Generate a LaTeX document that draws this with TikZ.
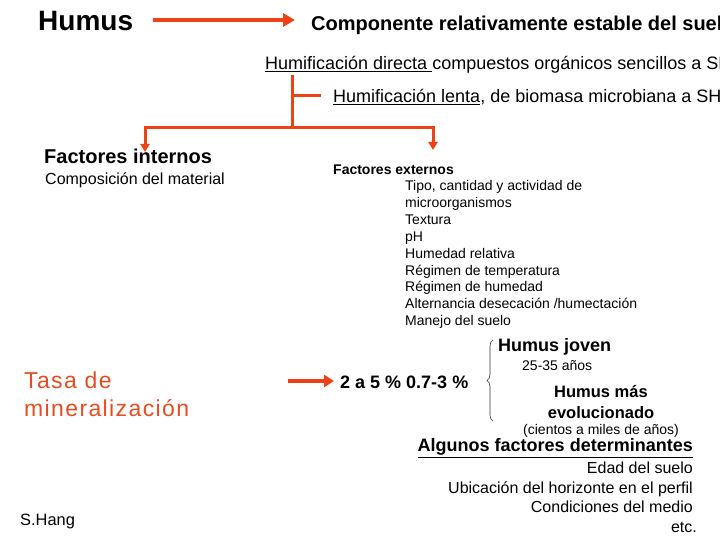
\documentclass[tikz,border=0pt]{standalone}
\usepackage{fontspec}
\setmainfont{Liberation Sans}
\usetikzlibrary{arrows.meta,positioning,decorations.pathreplacing}
\definecolor{hred}{RGB}{238,66,22}
\definecolor{tred}{RGB}{232,76,32}

\begin{document}
\begin{tikzpicture}[x=1pt, y=-1pt,
  >={Triangle[length=8pt,width=9pt]},
  conn/.style={draw=hred, line width=3pt},
  txt/.style={anchor=west, inner sep=0pt},
  item/.style={anchor=base west, inner sep=0pt, font=\fontsize{14}{16}\selectfont},
  ritem/.style={anchor=base east, inner sep=0pt, font=\fontsize{16}{18}\selectfont},
]
\useasboundingbox (0,0) rectangle (720,540);
\clip (0,0) rectangle (720,540);

% Humus -> definition
\node[txt, font=\bfseries\fontsize{28}{30}\selectfont] (humus) at (38,21) {Humus};
\node[txt, font=\bfseries\fontsize{20}{22}\selectfont] (comp) at (311,25)
  {Componente relativamente estable del suelo};
\draw[conn, line width=4pt, ->, >={Triangle[length=12pt,width=13pt]}]
  ([xshift=20pt,yshift=1pt]humus.east) -- ([xshift=-16pt,yshift=1pt]humus.east -| comp.west);

% two ways of humification
\node[txt, font=\fontsize{18}{20}\selectfont] (hdir) at (265,65)
  {\underline{Humificación directa\ }compuestos orgánicos sencillos a SH};
\node[txt, font=\fontsize{18}{20}\selectfont] (hlen) at (333,97)
  {\underline{Humificación lenta}, de biomasa microbiana a SH};
\coordinate (jtop) at (292,75);
\coordinate (jmid) at (292,96);
\coordinate (jbot) at (292,128);
\coordinate (tipL) at (145,152);
\coordinate (tipR) at (433,150);
\draw[conn] (jtop) -- (jbot);
\draw[conn] (jmid) -- ([xshift=-12pt]jmid -| hlen.west);
\draw[conn, ->] (jbot) -| (tipL);
\draw[conn, ->] (jbot) -| (tipR);

% internal factors
\node[txt, font=\bfseries\fontsize{20}{22}\selectfont] (fint) at (44,156) {Factores internos};
\node[txt, font=\fontsize{16}{18}\selectfont] (comp2) at (45,180) {Composición del material};

% external factors
\node[txt, font=\bfseries\fontsize{14}{16}\selectfont] (fext) at (333,170) {Factores externos};
\foreach \t [count=\i] in {{Tipo, cantidad y actividad de}, microorganismos, Textura, pH,
    Humedad relativa, Régimen de temperatura, Régimen de humedad,
    Alternancia desecación /humectación, Manejo del suelo}
  \node[item] (e\i) at (405,191+16.8*\i-16.8) {\t};

% mineralization rate
\node[txt, align=left, text=tred, font=\fontsize{23}{28}\selectfont\addfontfeature{LetterSpace=6}]
  (tasa) at (24,394) {Tasa de\\mineralización};
\node[txt, font=\bfseries\fontsize{18}{20}\selectfont] (rate) at (340,382) {2 a 5 \% 0.7-3 \%};
\draw[conn, line width=4pt, ->, >={Triangle[length=10pt,width=12pt]}]
  (288,381) -- ([xshift=-6pt]288,381 -| rate.west);

% humus ages
\draw[black!80, line width=0.6pt, decorate, decoration={brace, amplitude=6pt}]
  (493,421) -- (493,340);
\node[txt, font=\bfseries\fontsize{18}{20}\selectfont] (hjov) at (498,347) {Humus joven};
\node[txt, font=\fontsize{14}{16}\selectfont] (ajov) at (522,366) {25-35 años};
\node[align=center, inner sep=0pt, font=\bfseries\fontsize{16.5}{21}\selectfont] (hevo) at (601,402)
  {Humus más\\evolucionado};
\node[txt, font=\fontsize{14}{16}\selectfont] (aevo) at (523,431) {(cientos a miles de años)};

% determining factors
\node[anchor=east, inner sep=0pt, font=\bfseries\fontsize{18}{20}\selectfont] (alg) at (693,448)
  {\underline{Algunos factores determinantes}};
\node[ritem] (d1) at (693,473) {Edad del suelo};
\node[ritem] (d2) at (693,493) {Ubicación del horizonte en el perfil};
\node[ritem] (d3) at (693,512) {Condiciones del medio};
\node[ritem] (d4) at (697,532) {etc.};

\node[txt, font=\fontsize{16.4}{18}\selectfont] (author) at (20,521) {S.Hang};
\end{tikzpicture}
\end{document}
